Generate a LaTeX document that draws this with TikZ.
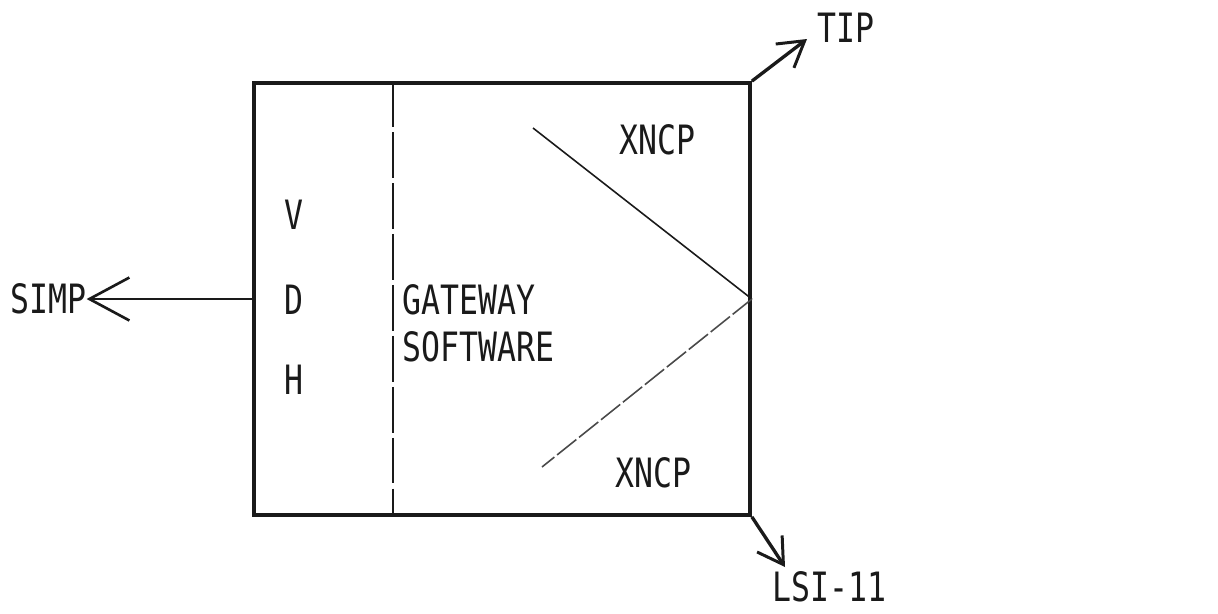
\documentclass[tikz,border=0pt]{standalone}
\usepackage{fontspec}
\usepackage{tikz}
\usetikzlibrary{arrows.meta}
\newfontfamily\typefont[FakeStretch=0.78]{DejaVu Sans Mono}
\definecolor{inkblack}{HTML}{1A1A1A}
\definecolor{inkgrey}{HTML}{4A4A4A}

\begin{document}
\begin{tikzpicture}[
    x=0.02cm, y=-0.02cm,
    every node/.style={inner sep=0pt, text=inkblack, font=\typefont\fontsize{23}{27}\selectfont},
    box/.style={draw=inkblack, line width=2.2pt, minimum width=9.92cm, minimum height=8.64cm},
    barb/.style={-{Straight Barb[length=8mm, width=8.6mm, line width=1.5pt]}, line width=1.6pt, draw=inkblack},
    smallbarb/.style={-{Straight Barb[length=5mm, width=6mm, line width=1.7pt]}, line width=1.9pt, draw=inkblack},
    diag/.style={line width=0.9pt, draw=inkblack}
]
\useasboundingbox (0,0) rectangle (1218,613);
\fill[white] (0,0) rectangle (1218,613);

% ---- BOX ----
\node[box] (gw) at (502,299) {};
\coordinate (sep) at (393,0);
\draw[inkblack, line width=1.2pt, dash pattern=on 26pt off 3pt] (sep |- gw.north) -- (sep |- gw.south);

% ---- LEFT COLUMN ----
\node (v) at (294,215) {V};
\node (d) at (294,300) {D};
\node (h) at (294,380) {H};

\node[anchor=west, align=left] (soft) at (402,323) {GATEWAY\\SOFTWARE};

% ---- XNCP paths ----
\node[anchor=west] (xtop) at (619,140) {XNCP};
\node[anchor=west] (xbot) at (615,473) {XNCP};
\coordinate (xa) at (533,128);
\coordinate (xb) at (542,467);
\draw[diag] (xa) -- (gw.east);
\draw[diag, draw=inkgrey, dash pattern=on 14pt off 2pt] (gw.east) -- (xb);

% ---- SIMP ----
\node[anchor=west] (simp) at (10,299) {SIMP};
\draw[barb] (gw.west) -- (gw.west -| simp.east);

% ---- TIP ----
\node[anchor=west] (tip) at (817,28) {TIP};
\coordinate (tipend) at (807,39);
\draw[smallbarb] (gw.north east) -- (tipend);

% ---- LSI-11 ----
\node[anchor=west] (lsi) at (772,587) {LSI-11};
\coordinate (lsiend) at (785,567);
\draw[smallbarb] (gw.south east) -- (lsiend);
\end{tikzpicture}
\end{document}
